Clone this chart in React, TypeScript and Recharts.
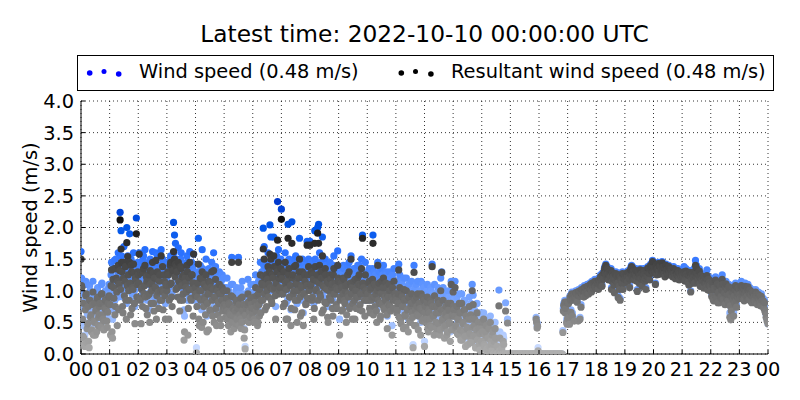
import React from 'react';
import { ScatterChart, Scatter, XAxis, YAxis, CartesianGrid } from 'recharts';

// Hour-axis ticks and labels
const hourTicks = [0, 1, 2, 3, 4, 5, 6, 7, 8, 9, 10, 11, 12, 13, 14, 15, 16, 17, 18, 19, 20, 21, 22, 23, 24];
const hourLabels = ['00', '01', '02', '03', '04', '05', '06', '07', '08', '09', '10', '11', '12', '13', '14', '15', '16', '17', '18', '19', '20', '21', '22', '23', '00'];
const speedTicks = [0, 0.5, 1, 1.5, 2, 2.5, 3, 3.5, 4];
const samplesPerHour = 30;

// Wind speed (m/s), even minutes, one line per hour (00..23), last value = 00:00 next day
const windSpeed = [
  1.62, 1.18, 0.45, 0.45, 0.30, 1.15, 0.40, 0.62, 0.38, 1.08, 0.72, 0.55, 0.92, 0.55, 0.66, 0.48, 0.85, 1.02, 0.60, 0.75, 0.95, 0.58, 1.12, 0.70, 0.52, 0.88, 0.98, 0.64, 0.80, 1.05,
  1.10, 0.80, 1.45, 0.55, 1.20, 1.48, 0.95, 1.35, 0.70, 1.60, 1.25, 2.24, 1.95, 1.40, 0.90, 1.70, 1.30, 1.05, 2.00, 1.55, 1.15, 1.90, 0.85, 1.45, 1.20, 1.60, 1.00, 1.35, 2.15, 1.25,
  1.40, 1.60, 1.05, 0.85, 1.25, 1.50, 1.15, 1.65, 0.95, 1.30, 1.10, 1.45, 0.70, 1.35, 1.20, 1.62, 1.00, 1.40, 1.28, 0.80, 1.55, 1.18, 1.35, 1.05, 1.65, 1.25, 0.90, 1.45, 1.15, 1.32,
  1.20, 1.45, 0.95, 1.30, 1.55, 1.10, 1.40, 2.08, 1.88, 1.75, 1.50, 1.25, 1.68, 1.35, 1.05, 1.60, 1.45, 1.15, 0.70, 1.40, 1.30, 1.55, 0.85, 1.25, 1.62, 1.10, 1.45, 1.35, 1.58, 1.20,
  1.25, 0.10, 1.10, 1.83, 0.90, 1.40, 1.20, 1.65, 0.75, 1.30, 1.05, 1.50, 0.60, 1.15, 1.35, 0.95, 1.25, 1.45, 0.85, 1.60, 1.10, 1.38, 0.70, 1.20, 1.02, 1.30, 0.80, 1.15, 1.25, 0.95,
  1.05, 0.85, 0.95, 1.20, 0.70, 1.00, 0.80, 0.60, 1.53, 1.10, 0.75, 0.90, 0.65, 1.05, 0.85, 1.53, 0.95, 0.70, 0.55, 1.15, 0.85, 0.40, 0.12, 0.75, 0.95, 1.18, 0.65, 0.80, 1.10, 0.90,
  0.85, 1.10, 0.70, 1.25, 0.95, 0.60, 1.15, 0.80, 1.45, 1.05, 1.30, 1.99, 1.70, 0.90, 1.45, 1.20, 1.60, 1.30, 2.04, 1.85, 1.00, 1.40, 1.85, 1.25, 0.75, 1.55, 2.41, 1.65, 1.20, 1.45,
  2.29, 1.40, 0.95, 1.25, 1.60, 0.80, 1.35, 2.05, 1.50, 1.10, 0.70, 2.09, 1.45, 1.20, 0.90, 1.55, 1.30, 1.05, 1.40, 1.83, 0.85, 1.25, 1.50, 0.65, 1.15, 1.35, 1.00, 1.78, 1.45, 1.20,
  1.78, 1.30, 1.05, 1.45, 0.80, 1.95, 1.20, 1.35, 2.00, 2.05, 1.60, 1.10, 1.40, 1.85, 0.90, 1.25, 1.50, 1.00, 1.35, 0.75, 1.20, 1.45, 1.05, 1.30, 0.85, 1.55, 1.15, 1.25, 0.95, 1.63,
  1.35, 0.55, 1.10, 1.25, 0.90, 1.40, 1.05, 1.20, 0.75, 1.30, 1.15, 1.45, 0.95, 1.55, 1.25, 1.00, 1.35, 0.80, 1.20, 1.10, 1.40, 1.30, 0.90, 1.15, 1.50, 1.88, 1.25, 1.05, 1.45, 1.20,
  1.20, 1.05, 1.35, 0.85, 1.25, 1.10, 1.88, 1.30, 0.95, 1.15, 0.70, 1.45, 1.25, 1.00, 0.80, 1.35, 1.15, 1.40, 0.90, 1.05, 1.25, 0.60, 1.10, 1.30, 0.95, 1.20, 0.45, 1.05, 1.35, 1.15,
  1.10, 0.85, 1.00, 1.42, 1.25, 0.75, 1.15, 0.95, 0.60, 1.05, 0.80, 1.20, 0.90, 0.55, 1.10, 0.70, 1.00, 0.85, 0.15, 1.40, 1.05, 0.65, 0.95, 1.15, 0.80, 1.00, 0.50, 0.90, 1.10, 0.75,
  0.20, 0.95, 0.75, 1.10, 0.55, 0.85, 0.65, 1.00, 1.42, 0.80, 0.45, 0.95, 0.70, 0.60, 1.05, 0.85, 0.50, 1.20, 1.30, 0.75, 0.90, 0.40, 0.65, 0.85, 0.55, 1.00, 0.70, 0.35, 1.15, 0.80,
  1.05, 0.85, 1.15, 0.60, 0.90, 0.70, 0.45, 0.80, 0.35, 0.95, 0.65, 0.50, 0.85, 0.25, 0.75, 0.55, 0.40, 0.90, 0.30, 0.70, 1.10, 0.93, 0.60, 0.45, 0.20, 0.80, 0.35, 0.55, 0.15, 0.65,
  0.50, 0.30, 0.65, 0.20, 0.45, 0.10, 0.55, 0.35, 0.15, 0.60, 0.25, 0.40, 0.05, 0.30, 0.50, 0.10, 0.20, 0.00, 1.01, 0.35, 0.00, 0.15, 0.00, 0.25, 0.00, 0.81, 0.00, 0.55, 0.00, 0.00,
  0.00, 0.00, 0.00, 0.00, 0.00, 0.00, 0.00, 0.00, 0.00, 0.00, 0.00, 0.00, 0.00, 0.00, 0.00, 0.00, 0.00, 0.00, 0.00, 0.00, 0.00, 0.00, 0.00, 0.00, 0.00, 0.00, 0.00, 0.58, 0.45, 0.10,
  0.00, 0.00, 0.00, 0.00, 0.00, 0.00, 0.00, 0.00, 0.00, 0.00, 0.00, 0.00, 0.00, 0.00, 0.00, 0.00, 0.00, 0.00, 0.00, 0.00, 0.00, 0.00, 0.00, 0.00, 0.00, 0.37, 0.80, 0.85, 0.75, 0.55,
  0.60, 0.82, 0.50, 0.88, 0.95, 0.65, 0.90, 0.55, 0.92, 0.98, 0.85, 0.55, 1.00, 0.58, 0.78, 0.98, 1.02, 0.92, 1.05, 0.95, 1.00, 1.08, 0.98, 1.05, 1.12, 1.00, 1.10, 1.05, 1.15, 1.08,
  1.08, 1.12, 1.05, 1.18, 1.15, 1.22, 1.10, 1.25, 1.30, 1.38, 1.42, 1.28, 1.35, 1.20, 1.32, 1.25, 1.05, 1.30, 1.22, 1.00, 1.28, 1.18, 1.25, 0.92, 1.10, 0.88, 1.20, 1.15, 1.05, 1.22,
  1.15, 1.22, 1.30, 1.18, 1.25, 1.08, 1.35, 1.40, 1.38, 1.28, 1.32, 1.20, 1.25, 1.02, 1.30, 1.15, 1.35, 1.22, 1.10, 1.28, 1.32, 1.18, 1.05, 1.25, 1.38, 1.30, 1.20, 1.42, 1.35, 1.48,
  1.30, 1.38, 1.12, 1.42, 1.35, 1.45, 1.28, 1.40, 1.33, 1.46, 1.30, 1.38, 1.25, 1.42, 1.35, 1.30, 1.40, 1.28, 1.36, 1.32, 1.25, 1.38, 1.30, 1.22, 1.35, 1.28, 1.32, 1.20, 1.30, 1.25,
  1.30, 1.22, 1.38, 1.18, 1.35, 1.25, 1.28, 1.12, 1.32, 1.00, 1.20, 1.30, 1.25, 1.15, 1.48, 1.40, 1.30, 1.22, 1.35, 1.10, 1.28, 1.18, 1.25, 1.08, 1.20, 1.15, 1.33, 1.05, 1.22, 1.12,
  1.10, 0.95, 1.18, 0.88, 1.05, 1.22, 0.92, 1.15, 1.00, 0.85, 1.12, 0.95, 1.25, 0.90, 1.05, 0.82, 1.15, 0.98, 0.88, 1.10, 0.65, 0.58, 0.95, 1.08, 0.66, 0.85, 1.12, 0.78, 1.00, 0.92,
  1.05, 0.92, 1.15, 0.98, 1.08, 0.88, 1.12, 1.02, 0.95, 1.10, 0.90, 1.05, 0.98, 0.85, 1.00, 0.92, 0.88, 1.02, 0.95, 0.82, 0.98, 0.90, 0.85, 0.95, 0.80, 0.88, 0.75, 0.70, 0.62, 0.55,
  0.48,
];

// Wind speed (m/s), odd minutes, one line per hour
const windSpeedOdd = [
  1.20, 0.75, 0.95, 0.50, 0.85, 1.10, 0.65, 0.90, 0.45, 1.00, 0.80, 0.60, 1.15, 0.70, 0.95, 0.85, 0.55, 1.05, 0.75, 0.90, 0.65, 1.10, 0.80, 0.95, 0.70, 1.00, 0.85, 0.60, 0.95, 1.10,
  0.95, 1.25, 0.70, 1.35, 1.05, 0.85, 1.50, 1.15, 1.30, 0.90, 1.40, 1.20, 1.55, 0.95, 1.35, 1.10, 1.45, 0.80, 1.25, 1.38, 1.05, 1.30, 1.50, 0.95, 1.20, 1.40, 0.75, 1.30, 1.10, 1.45,
  1.30, 1.05, 1.45, 1.20, 0.95, 1.55, 1.25, 1.10, 1.40, 0.85, 1.35, 1.15, 1.50, 1.00, 1.30, 1.45, 0.90, 1.25, 1.60, 1.10, 1.35, 0.95, 1.40, 1.20, 1.05, 1.50, 1.15, 1.30, 0.80, 1.25,
  1.25, 1.40, 1.05, 1.50, 1.30, 0.95, 1.45, 1.60, 1.35, 1.20, 1.45, 1.10, 1.30, 0.90, 1.50, 1.25, 1.05, 1.40, 0.60, 1.30, 1.15, 1.45, 0.95, 1.35, 1.20, 1.05, 1.40, 0.85, 1.30, 1.10,
  1.15, 0.95, 1.30, 0.80, 1.20, 1.05, 0.70, 1.35, 0.95, 1.10, 0.85, 1.25, 1.00, 0.65, 1.15, 1.30, 0.90, 1.05, 1.20, 0.75, 1.10, 0.95, 1.25, 0.85, 1.00, 1.15, 0.70, 1.05, 0.90, 1.20,
  0.95, 0.75, 1.05, 0.85, 0.65, 0.95, 0.80, 1.10, 0.70, 0.90, 0.60, 0.85, 1.00, 0.75, 0.90, 0.65, 0.80, 1.05, 0.70, 0.85, 0.95, 0.60, 0.80, 0.90, 0.70, 1.00, 0.85, 0.75, 0.95, 0.80,
  0.90, 0.75, 1.00, 0.85, 1.10, 0.70, 0.95, 1.20, 0.85, 1.30, 1.05, 1.40, 1.15, 1.25, 0.95, 1.35, 1.10, 1.45, 1.25, 1.05, 1.40, 1.20, 1.50, 1.10, 1.30, 1.45, 1.15, 1.35, 1.25, 1.50,
  1.35, 1.15, 1.45, 1.00, 1.30, 1.20, 0.85, 1.40, 1.10, 1.25, 0.95, 1.35, 1.15, 1.50, 1.05, 1.30, 0.80, 1.20, 1.45, 1.10, 1.25, 0.90, 1.35, 1.15, 1.40, 1.00, 1.25, 1.10, 1.50, 1.20,
  1.25, 1.45, 1.10, 1.35, 0.95, 1.50, 1.20, 1.40, 1.05, 1.30, 1.15, 1.45, 0.90, 1.25, 1.35, 1.05, 1.40, 1.20, 0.85, 1.30, 1.10, 1.35, 1.25, 0.95, 1.40, 1.15, 1.30, 1.00, 1.20, 1.35,
  1.20, 1.05, 1.30, 0.90, 1.15, 1.35, 1.00, 1.25, 0.85, 1.40, 1.10, 0.95, 1.30, 1.15, 0.80, 1.25, 1.05, 1.35, 0.95, 1.20, 1.10, 1.40, 1.00, 1.25, 0.90, 1.30, 1.15, 0.85, 1.20, 1.05,
  1.15, 1.30, 0.95, 1.20, 1.05, 1.35, 0.85, 1.10, 1.25, 0.90, 1.20, 1.05, 1.30, 0.80, 1.15, 1.00, 1.25, 0.95, 1.10, 1.30, 0.85, 1.15, 1.00, 1.20, 0.90, 1.10, 1.25, 0.95, 1.05, 1.15,
  1.05, 0.90, 1.15, 0.80, 1.00, 0.70, 1.10, 0.95, 1.20, 0.85, 0.65, 1.05, 0.90, 1.10, 0.75, 0.95, 1.15, 0.80, 1.00, 0.70, 0.90, 1.10, 0.85, 0.60, 1.00, 0.95, 1.15, 0.75, 0.90, 1.05,
  0.85, 0.70, 1.00, 0.60, 0.90, 0.75, 1.05, 0.65, 0.95, 0.80, 1.10, 0.55, 0.85, 0.95, 0.70, 1.00, 0.60, 0.90, 0.75, 1.05, 0.65, 0.85, 0.95, 0.55, 0.80, 0.90, 0.70, 1.00, 0.60, 0.85,
  0.90, 0.75, 0.60, 0.85, 0.50, 0.70, 0.95, 0.55, 0.80, 0.40, 0.65, 0.85, 0.45, 0.75, 0.60, 0.30, 0.70, 0.50, 0.80, 0.35, 0.60, 0.45, 0.70, 0.25, 0.55, 0.40, 0.65, 0.30, 0.50, 0.35,
  0.45, 0.60, 0.25, 0.40, 0.55, 0.15, 0.35, 0.50, 0.20, 0.30, 0.10, 0.45, 0.25, 0.05, 0.35, 0.00, 0.20, 0.00, 0.10, 0.00, 0.00, 0.00, 0.30, 0.00, 0.00, 0.00, 0.00, 0.00, 0.00, 0.00,
  0.00, 0.00, 0.00, 0.00, 0.00, 0.00, 0.00, 0.00, 0.00, 0.00, 0.00, 0.00, 0.00, 0.00, 0.00, 0.00, 0.00, 0.00, 0.00, 0.00, 0.00, 0.00, 0.00, 0.00, 0.00, 0.00, 0.00, 0.52, 0.48, 0.00,
  0.00, 0.00, 0.00, 0.00, 0.00, 0.00, 0.00, 0.00, 0.00, 0.00, 0.00, 0.00, 0.00, 0.00, 0.00, 0.00, 0.00, 0.00, 0.00, 0.00, 0.00, 0.00, 0.00, 0.00, 0.00, 0.72, 0.80, 0.68, 0.85, 0.50,
  0.85, 0.62, 0.92, 0.70, 0.98, 0.88, 0.95, 0.92, 1.00, 0.90, 0.96, 1.02, 0.94, 1.00, 1.05, 0.97, 1.03, 1.08, 1.00, 1.06, 1.10, 1.02, 1.08, 1.12, 1.05, 1.15, 1.08, 1.12, 1.18, 1.10,
  1.10, 1.15, 1.20, 1.12, 1.25, 1.18, 1.28, 1.22, 1.35, 1.30, 1.25, 1.38, 1.30, 1.28, 1.22, 1.35, 1.18, 1.25, 1.12, 1.20, 1.30, 1.22, 1.15, 1.28, 1.05, 1.25, 1.18, 1.30, 1.22, 1.28,
  1.20, 1.28, 1.25, 1.32, 1.22, 1.30, 1.38, 1.26, 1.33, 1.20, 1.28, 1.35, 1.18, 1.25, 1.32, 1.28, 1.22, 1.30, 1.25, 1.35, 1.28, 1.22, 1.30, 1.33, 1.25, 1.38, 1.30, 1.35, 1.40, 1.32,
  1.35, 1.32, 1.40, 1.28, 1.38, 1.33, 1.42, 1.30, 1.36, 1.40, 1.34, 1.30, 1.38, 1.33, 1.28, 1.36, 1.32, 1.30, 1.35, 1.28, 1.33, 1.30, 1.26, 1.32, 1.28, 1.35, 1.25, 1.30, 1.27, 1.32,
  1.28, 1.25, 1.32, 1.20, 1.30, 1.22, 1.18, 1.28, 1.15, 1.25, 1.30, 1.22, 1.35, 1.28, 1.32, 1.25, 1.20, 1.28, 1.15, 1.25, 1.22, 1.12, 1.20, 1.18, 1.25, 1.10, 1.22, 1.15, 1.18, 1.05,
  1.05, 1.15, 0.90, 1.08, 1.20, 0.95, 1.10, 0.85, 1.02, 1.12, 0.92, 1.05, 1.15, 0.88, 1.00, 1.10, 0.92, 1.05, 0.85, 0.98, 0.80, 0.72, 1.02, 0.90, 0.95, 1.05, 0.88, 0.95, 1.08, 0.98,
  0.98, 1.08, 0.95, 1.02, 0.90, 1.05, 0.98, 0.92, 1.06, 0.95, 1.00, 0.88, 0.96, 1.02, 0.90, 0.95, 0.85, 0.98, 0.88, 0.92, 0.85, 0.95, 0.80, 0.88, 0.82, 0.78, 0.85, 0.72, 0.66, 0.58,
];

// Resultant wind speed (m/s), even minutes
const resultantSpeed = [
  1.50, 1.05, 0.28, 0.25, 0.12, 0.92, 0.18, 0.48, 0.20, 0.85, 0.58, 0.35, 0.78, 0.30, 0.50, 0.30, 0.70, 0.88, 0.45, 0.62, 0.80, 0.42, 0.95, 0.55, 0.38, 0.72, 0.85, 0.52, 0.66, 0.90,
  0.90, 0.30, 1.33, 0.25, 1.05, 1.35, 0.75, 1.20, 0.45, 1.40, 1.10, 2.12, 1.66, 1.30, 0.65, 1.45, 1.15, 0.85, 1.76, 1.54, 1.00, 1.45, 0.62, 1.30, 1.05, 1.42, 0.80, 1.20, 1.90, 1.10,
  1.25, 1.58, 0.85, 0.48, 1.05, 1.30, 0.95, 1.40, 0.72, 1.15, 0.92, 1.25, 0.50, 1.10, 1.00, 1.45, 0.80, 1.20, 1.05, 0.55, 1.30, 0.98, 1.15, 0.85, 1.55, 1.02, 0.70, 1.25, 0.92, 1.10,
  1.00, 1.30, 0.55, 1.10, 1.45, 0.90, 1.28, 1.62, 1.50, 1.42, 1.38, 1.05, 1.45, 1.15, 0.85, 1.35, 1.22, 0.95, 0.22, 1.20, 1.05, 1.40, 0.30, 1.02, 1.45, 0.88, 1.25, 1.12, 1.58, 1.00,
  1.05, 0.02, 0.90, 1.42, 0.45, 1.20, 1.00, 1.30, 0.50, 1.10, 0.85, 1.25, 0.35, 0.95, 1.15, 0.70, 1.05, 1.30, 0.60, 1.32, 0.90, 1.18, 0.45, 1.00, 0.82, 1.10, 0.55, 0.95, 1.05, 0.75,
  0.85, 0.70, 0.75, 1.00, 0.55, 0.80, 0.65, 0.35, 1.45, 0.90, 0.60, 0.72, 0.48, 0.85, 0.70, 1.45, 0.78, 0.55, 0.40, 0.90, 0.70, 0.25, 0.08, 0.60, 0.78, 0.95, 0.50, 0.65, 0.88, 0.72,
  0.65, 0.90, 0.50, 1.05, 0.75, 0.45, 0.95, 0.60, 1.25, 0.85, 1.10, 1.66, 1.50, 0.70, 1.25, 1.00, 1.38, 1.10, 1.58, 1.50, 0.80, 1.20, 1.55, 1.05, 0.55, 1.35, 1.80, 1.45, 1.00, 1.25,
  2.13, 1.20, 0.75, 1.05, 1.45, 0.55, 1.15, 1.83, 1.35, 0.90, 0.45, 1.75, 1.25, 1.00, 0.70, 1.40, 1.10, 0.85, 1.20, 1.50, 0.60, 1.05, 1.30, 0.45, 0.95, 1.15, 0.80, 1.72, 1.25, 1.00,
  1.72, 1.10, 0.85, 1.25, 0.55, 1.75, 1.00, 1.15, 1.91, 1.75, 1.40, 0.90, 1.20, 1.55, 0.70, 1.05, 1.35, 0.80, 1.15, 0.50, 1.00, 1.25, 0.85, 1.10, 0.60, 1.35, 0.95, 1.05, 0.72, 1.40,
  1.15, 0.30, 0.90, 1.05, 0.70, 1.20, 0.85, 1.00, 0.50, 1.10, 0.95, 1.30, 0.75, 1.50, 1.05, 0.80, 1.15, 0.55, 1.00, 0.90, 1.20, 1.10, 0.70, 0.95, 1.35, 1.83, 1.05, 0.85, 1.25, 1.00,
  1.00, 0.85, 1.15, 0.65, 1.05, 0.90, 1.75, 1.10, 0.75, 0.95, 0.50, 1.40, 1.05, 0.80, 0.60, 1.15, 0.95, 1.20, 0.70, 0.85, 1.05, 0.40, 0.90, 1.10, 0.75, 1.00, 0.30, 0.85, 1.15, 0.95,
  0.90, 0.65, 0.80, 1.33, 1.05, 0.55, 0.95, 0.75, 0.40, 0.85, 0.60, 1.00, 0.70, 0.35, 0.90, 0.50, 0.80, 0.65, 0.10, 1.29, 0.85, 0.45, 0.75, 0.95, 0.60, 0.80, 0.30, 0.70, 0.90, 0.55,
  0.12, 0.75, 0.55, 0.90, 0.35, 0.65, 0.45, 0.80, 1.38, 0.60, 0.30, 0.75, 0.50, 0.40, 0.85, 0.65, 0.30, 1.00, 1.29, 0.55, 0.70, 0.25, 0.45, 0.65, 0.35, 0.80, 0.50, 0.20, 1.10, 0.60,
  0.98, 0.70, 1.05, 0.45, 0.75, 0.55, 0.30, 0.65, 0.22, 0.80, 0.50, 0.35, 0.70, 0.12, 0.60, 0.40, 0.28, 0.75, 0.18, 0.55, 1.00, 0.78, 0.45, 0.30, 0.10, 0.65, 0.22, 0.40, 0.06, 0.50,
  0.40, 0.20, 0.55, 0.12, 0.35, 0.05, 0.45, 0.25, 0.08, 0.50, 0.15, 0.30, 0.00, 0.20, 0.40, 0.05, 0.12, 0.00, 0.76, 0.25, 0.00, 0.08, 0.00, 0.15, 0.00, 0.68, 0.00, 0.49, 0.00, 0.00,
  0.00, 0.00, 0.00, 0.00, 0.00, 0.00, 0.00, 0.00, 0.00, 0.00, 0.00, 0.00, 0.00, 0.00, 0.00, 0.00, 0.00, 0.00, 0.00, 0.00, 0.00, 0.00, 0.00, 0.00, 0.00, 0.00, 0.00, 0.55, 0.41, 0.05,
  0.00, 0.00, 0.00, 0.00, 0.00, 0.00, 0.00, 0.00, 0.00, 0.00, 0.00, 0.00, 0.00, 0.00, 0.00, 0.00, 0.00, 0.00, 0.00, 0.00, 0.00, 0.00, 0.00, 0.00, 0.00, 0.34, 0.77, 0.82, 0.72, 0.50,
  0.56, 0.80, 0.47, 0.85, 0.93, 0.60, 0.87, 0.52, 0.90, 0.95, 0.82, 0.52, 0.97, 0.55, 0.74, 0.96, 0.99, 0.90, 1.03, 0.92, 0.97, 1.06, 0.95, 1.03, 1.10, 0.98, 1.07, 1.03, 1.12, 1.05,
  1.05, 1.10, 1.02, 1.16, 1.12, 1.20, 1.07, 1.23, 1.28, 1.36, 1.40, 1.25, 1.33, 1.17, 1.30, 1.22, 1.02, 1.28, 1.19, 0.97, 1.26, 1.15, 1.23, 0.89, 1.07, 0.85, 1.18, 1.12, 1.02, 1.20,
  1.12, 1.20, 1.28, 1.15, 1.22, 1.05, 1.33, 1.38, 1.36, 1.25, 1.30, 1.17, 1.22, 0.99, 1.28, 1.12, 1.33, 1.19, 1.07, 1.26, 1.30, 1.15, 1.02, 1.23, 1.36, 1.28, 1.17, 1.40, 1.33, 1.46,
  1.28, 1.36, 1.10, 1.40, 1.33, 1.43, 1.26, 1.38, 1.31, 1.44, 1.27, 1.36, 1.22, 1.40, 1.33, 1.27, 1.38, 1.25, 1.34, 1.29, 1.22, 1.35, 1.27, 1.19, 1.32, 1.25, 1.29, 1.17, 1.27, 1.22,
  1.27, 1.19, 1.30, 1.15, 1.31, 1.22, 1.25, 1.09, 1.29, 0.98, 1.17, 1.27, 1.21, 1.12, 1.40, 1.36, 1.27, 1.18, 1.31, 1.07, 1.24, 1.14, 1.21, 1.04, 1.16, 1.11, 1.24, 1.01, 1.18, 1.08,
  1.06, 0.91, 1.14, 0.84, 1.01, 1.17, 0.88, 1.11, 0.96, 0.81, 1.08, 0.91, 1.18, 0.86, 1.01, 0.78, 1.11, 0.94, 0.84, 1.06, 0.58, 0.54, 0.91, 1.04, 0.60, 0.81, 1.08, 0.74, 0.96, 0.88,
  1.01, 0.88, 1.08, 0.94, 1.04, 0.84, 1.07, 0.98, 0.91, 1.06, 0.86, 1.01, 0.94, 0.81, 0.96, 0.88, 0.84, 0.98, 0.91, 0.78, 0.94, 0.86, 0.81, 0.91, 0.76, 0.84, 0.71, 0.66, 0.58, 0.52,
  0.48,
];

// Resultant wind speed (m/s), odd minutes
const resultantSpeedOdd = [
  1.08, 0.55, 0.80, 0.15, 0.70, 0.95, 0.40, 0.75, 0.10, 0.85, 0.62, 0.38, 0.98, 0.52, 0.80, 0.68, 0.35, 0.90, 0.58, 0.75, 0.45, 0.95, 0.62, 0.80, 0.52, 0.85, 0.70, 0.42, 0.80, 0.92,
  0.78, 1.08, 0.35, 1.18, 0.88, 0.62, 1.35, 0.98, 1.15, 0.70, 1.32, 1.02, 1.45, 0.75, 1.20, 0.92, 1.38, 0.55, 1.08, 1.25, 0.85, 1.12, 1.40, 0.72, 1.02, 1.28, 0.48, 1.15, 0.90, 1.30,
  1.12, 0.88, 1.28, 1.02, 0.75, 1.35, 1.08, 0.90, 1.22, 0.62, 1.18, 0.95, 1.32, 0.80, 1.12, 1.28, 0.68, 1.05, 1.48, 0.92, 1.18, 0.72, 1.25, 1.00, 0.85, 1.38, 0.98, 1.15, 0.55, 1.08,
  1.08, 1.25, 0.85, 1.40, 1.12, 0.75, 1.32, 1.48, 1.22, 1.02, 1.30, 0.90, 1.15, 0.68, 1.38, 1.08, 0.85, 1.25, 0.35, 1.12, 0.98, 1.30, 0.72, 1.20, 1.02, 0.85, 1.25, 0.60, 1.12, 0.92,
  0.95, 0.75, 1.12, 0.55, 1.00, 0.85, 0.42, 1.18, 0.75, 0.90, 0.62, 1.05, 0.80, 0.38, 0.95, 1.12, 0.68, 0.85, 1.02, 0.50, 0.90, 0.72, 1.05, 0.62, 0.80, 0.95, 0.45, 0.85, 0.68, 1.00,
  0.78, 0.58, 0.88, 0.68, 0.45, 0.78, 0.62, 0.92, 0.50, 0.72, 0.40, 0.68, 0.82, 0.55, 0.72, 0.45, 0.62, 0.88, 0.50, 0.68, 0.78, 0.38, 0.62, 0.72, 0.52, 0.82, 0.68, 0.58, 0.78, 0.62,
  0.72, 0.55, 0.82, 0.68, 0.92, 0.50, 0.78, 1.02, 0.65, 1.12, 0.85, 1.22, 0.95, 1.08, 0.75, 1.18, 0.90, 1.30, 1.05, 0.85, 1.25, 1.02, 1.38, 0.92, 1.12, 1.30, 0.95, 1.20, 1.05, 1.35,
  1.18, 0.95, 1.30, 0.80, 1.12, 1.02, 0.55, 1.25, 0.90, 1.08, 0.72, 1.20, 0.95, 1.38, 0.85, 1.12, 0.50, 1.00, 1.30, 0.90, 1.08, 0.65, 1.20, 0.95, 1.25, 0.78, 1.08, 0.88, 1.38, 1.02,
  1.08, 1.30, 0.90, 1.18, 0.72, 1.38, 1.02, 1.25, 0.85, 1.12, 0.95, 1.30, 0.65, 1.08, 1.20, 0.82, 1.25, 1.02, 0.58, 1.12, 0.90, 1.18, 1.05, 0.72, 1.25, 0.95, 1.12, 0.78, 1.02, 1.20,
  1.02, 0.85, 1.12, 0.68, 0.95, 1.18, 0.80, 1.08, 0.62, 1.25, 0.90, 0.72, 1.12, 0.95, 0.55, 1.05, 0.85, 1.18, 0.72, 1.00, 0.90, 1.25, 0.78, 1.08, 0.68, 1.12, 0.95, 0.60, 1.00, 0.85,
  0.95, 1.12, 0.72, 1.02, 0.85, 1.18, 0.62, 0.90, 1.08, 0.68, 1.00, 0.85, 1.12, 0.55, 0.95, 0.78, 1.05, 0.72, 0.90, 1.12, 0.62, 0.95, 0.78, 1.00, 0.68, 0.90, 1.05, 0.72, 0.85, 0.95,
  0.85, 0.70, 0.95, 0.58, 0.80, 0.48, 0.90, 0.75, 1.02, 0.62, 0.42, 0.85, 0.70, 0.90, 0.52, 0.75, 0.95, 0.58, 0.80, 0.45, 0.70, 0.90, 0.62, 0.38, 0.80, 0.72, 0.95, 0.52, 0.68, 0.85,
  0.65, 0.50, 0.82, 0.40, 0.70, 0.55, 0.85, 0.42, 0.75, 0.60, 0.92, 0.32, 0.65, 0.75, 0.48, 0.80, 0.38, 0.70, 0.52, 0.85, 0.42, 0.62, 0.75, 0.30, 0.58, 0.70, 0.48, 0.80, 0.38, 0.62,
  0.75, 0.60, 0.42, 0.70, 0.32, 0.55, 0.80, 0.38, 0.65, 0.22, 0.48, 0.70, 0.28, 0.60, 0.42, 0.15, 0.55, 0.32, 0.62, 0.18, 0.42, 0.28, 0.55, 0.10, 0.38, 0.22, 0.50, 0.15, 0.32, 0.20,
  0.35, 0.50, 0.15, 0.30, 0.45, 0.08, 0.25, 0.40, 0.12, 0.20, 0.05, 0.35, 0.15, 0.02, 0.25, 0.00, 0.12, 0.00, 0.05, 0.00, 0.00, 0.00, 0.20, 0.00, 0.00, 0.00, 0.00, 0.00, 0.00, 0.00,
  0.00, 0.00, 0.00, 0.00, 0.00, 0.00, 0.00, 0.00, 0.00, 0.00, 0.00, 0.00, 0.00, 0.00, 0.00, 0.00, 0.00, 0.00, 0.00, 0.00, 0.00, 0.00, 0.00, 0.00, 0.00, 0.00, 0.00, 0.50, 0.44, 0.00,
  0.00, 0.00, 0.00, 0.00, 0.00, 0.00, 0.00, 0.00, 0.00, 0.00, 0.00, 0.00, 0.00, 0.00, 0.00, 0.00, 0.00, 0.00, 0.00, 0.00, 0.00, 0.00, 0.00, 0.00, 0.00, 0.68, 0.77, 0.65, 0.82, 0.47,
  0.82, 0.58, 0.90, 0.66, 0.95, 0.85, 0.92, 0.89, 0.97, 0.87, 0.93, 0.99, 0.91, 0.97, 1.02, 0.94, 1.00, 1.05, 0.97, 1.03, 1.07, 0.99, 1.05, 1.09, 1.02, 1.12, 1.05, 1.09, 1.15, 1.07,
  1.07, 1.12, 1.17, 1.09, 1.22, 1.15, 1.25, 1.19, 1.32, 1.27, 1.22, 1.35, 1.27, 1.25, 1.19, 1.32, 1.15, 1.22, 1.09, 1.17, 1.27, 1.19, 1.12, 1.25, 1.02, 1.22, 1.15, 1.27, 1.19, 1.25,
  1.17, 1.25, 1.22, 1.29, 1.19, 1.27, 1.35, 1.23, 1.30, 1.17, 1.25, 1.32, 1.15, 1.22, 1.29, 1.25, 1.19, 1.27, 1.22, 1.32, 1.25, 1.19, 1.27, 1.30, 1.22, 1.35, 1.27, 1.32, 1.37, 1.29,
  1.32, 1.29, 1.37, 1.25, 1.35, 1.30, 1.39, 1.27, 1.33, 1.37, 1.31, 1.27, 1.35, 1.30, 1.25, 1.33, 1.29, 1.27, 1.32, 1.25, 1.30, 1.27, 1.23, 1.29, 1.25, 1.32, 1.22, 1.27, 1.24, 1.29,
  1.24, 1.21, 1.27, 1.16, 1.26, 1.18, 1.14, 1.24, 1.11, 1.21, 1.26, 1.18, 1.30, 1.24, 1.28, 1.21, 1.16, 1.24, 1.11, 1.20, 1.17, 1.07, 1.15, 1.13, 1.20, 1.05, 1.17, 1.10, 1.13, 1.00,
  1.01, 1.10, 0.86, 1.04, 1.15, 0.91, 1.06, 0.81, 0.98, 1.08, 0.88, 1.01, 1.10, 0.84, 0.96, 1.06, 0.88, 1.01, 0.81, 0.94, 0.76, 0.68, 0.98, 0.86, 0.91, 1.01, 0.84, 0.91, 1.04, 0.94,
  0.94, 1.04, 0.91, 0.98, 0.86, 1.01, 0.94, 0.88, 1.02, 0.91, 0.96, 0.84, 0.92, 0.98, 0.86, 0.91, 0.81, 0.94, 0.84, 0.88, 0.81, 0.91, 0.76, 0.84, 0.78, 0.74, 0.81, 0.68, 0.62, 0.54,
];

const toPoints = (even: number[], odd: number[]) => {
  const pts: { t: number; v: number }[] = [];
  even.forEach((v, i) => {
    pts.push({ t: i / samplesPerHour, v });
    if (i < odd.length) pts.push({ t: (i + 0.5) / samplesPerHour, v: odd[i] });
  });
  return pts;
};

const windData = toPoints(windSpeed, windSpeedOdd);
const resultantData = toPoints(resultantSpeed, resultantSpeedOdd);

const clamp = (x: number) => Math.max(0, Math.min(255, Math.round(x)));
const blueFor = (v: number) =>
  `rgb(${clamp(210 - 105 * v)},${clamp(225 - 70 * v)},${clamp(255 - Math.max(0, v - 1.6) * 60)})`;
const grayFor = (v: number) => {
  const g = Math.max(10, clamp(175 - 75 * v));
  return `rgb(${g},${g},${g})`;
};

const makeDot = (colorFor: (v: number) => string) => (props: any) => {
  const { cx, cy, payload } = props;
  if (cx == null || cy == null) return <g />;
  return <circle cx={cx} cy={cy} r={3.6} fill={colorFor(payload.v)} />;
};

const FONT = '"DejaVu Sans", sans-serif';
const FS = 19.4;
const TICK_LEN = 4;
const X_MARGIN = 8;
const Y_MARGIN = 7;

// bottom axis: inward tick mark + label
const BottomTick = (props: any) => {
  const { x, y, payload } = props;
  const axisY = y - X_MARGIN;
  return (
    <g>
      <line x1={x} x2={x} y1={axisY} y2={axisY - TICK_LEN} stroke="#000" strokeWidth={1} />
      <text x={x} y={y} dy="0.71em" textAnchor="middle" fontSize={FS} fontFamily={FONT} fill="#000">
        {hourLabels[hourTicks.indexOf(payload.value)]}
      </text>
    </g>
  );
};

// left axis: inward tick mark + label
const LeftTick = (props: any) => {
  const { x, y, payload } = props;
  const axisX = x + Y_MARGIN;
  return (
    <g>
      <line x1={axisX} x2={axisX + TICK_LEN} y1={y} y2={y} stroke="#000" strokeWidth={1} />
      <text x={x} y={y} dy="0.355em" textAnchor="end" fontSize={FS} fontFamily={FONT} fill="#000">
        {Number(payload.value).toFixed(1)}
      </text>
    </g>
  );
};

// top axis: inward tick mark only
const TopTick = (props: any) => {
  const { x, y } = props;
  return <line x1={x} x2={x} y1={y} y2={y + TICK_LEN} stroke="#000" strokeWidth={1} />;
};

// right axis: inward tick mark only
const RightTick = (props: any) => {
  const { x, y } = props;
  return <line x1={x} x2={x - TICK_LEN} y1={y} y2={y} stroke="#000" strokeWidth={1} />;
};

export default function App() {
  return (
    <div style={{ position: 'absolute', left: 0, top: 0, width: 800, height: 400, background: '#fff', fontFamily: FONT }}>
      <ScatterChart width={800} height={400} margin={{ top: 101, right: 32, bottom: 16, left: 0 }}>
        <CartesianGrid stroke="#000" strokeWidth={0.8} strokeDasharray="1 3" />
        <XAxis
          dataKey="t"
          type="number"
          domain={[0, 24]}
          ticks={hourTicks}
          interval={0}
          tickLine={false}
          tickSize={0}
          tickMargin={X_MARGIN}
          height={30}
          allowDataOverflow
          axisLine={{ stroke: '#000', strokeWidth: 1 }}
          tick={BottomTick}
        />
        <XAxis
          xAxisId="top"
          orientation="top"
          type="number"
          domain={[0, 24]}
          ticks={hourTicks}
          interval={0}
          height={0}
          tickLine={false}
          tickSize={0}
          tickMargin={0}
          axisLine={{ stroke: '#000', strokeWidth: 1 }}
          tick={TopTick}
        />
        <YAxis
          dataKey="v"
          type="number"
          domain={[0, 4]}
          ticks={speedTicks}
          interval={0}
          tickLine={false}
          tickSize={0}
          tickMargin={Y_MARGIN}
          width={81}
          allowDataOverflow
          axisLine={{ stroke: '#000', strokeWidth: 1 }}
          tick={LeftTick}
        />
        <YAxis
          yAxisId="right"
          orientation="right"
          type="number"
          domain={[0, 4]}
          ticks={speedTicks}
          interval={0}
          width={0}
          tickLine={false}
          tickSize={0}
          tickMargin={0}
          axisLine={{ stroke: '#000', strokeWidth: 1 }}
          tick={RightTick}
        />
        <Scatter name="Wind speed" data={windData} isAnimationActive={false} shape={makeDot(blueFor)} />
        <Scatter name="Resultant wind speed" data={resultantData} isAnimationActive={false} shape={makeDot(grayFor)} />
      </ScatterChart>
      <svg width={800} height={400} style={{ position: 'absolute', left: 0, top: 0, pointerEvents: 'none' }}>
        <text x={424.5} y={42.3} textAnchor="middle" fontSize={23.3} fontFamily={FONT} fill="#000">
          Latest time: 2022-10-10 00:00:00 UTC
        </text>
        <rect x={77.5} y={55.5} width={696} height={35} fill="#fff" stroke="#000" strokeWidth={1} />
        <circle cx={89.7} cy={73} r={2.8} fill="#0000ff" />
        <circle cx={104} cy={71.5} r={2.5} fill="#0000ff" />
        <circle cx={118.7} cy={74} r={2.8} fill="#0000ff" />
        <text x={139} y={78.3} fontSize={FS} fontFamily={FONT} fill="#000">Wind speed (0.48 m/s)</text>
        <circle cx={401.3} cy={73} r={2.8} fill="#000" />
        <circle cx={415.5} cy={71.5} r={2.5} fill="#000" />
        <circle cx={430.9} cy={74} r={2.8} fill="#000" />
        <text x={451} y={78.3} fontSize={FS} fontFamily={FONT} fill="#000">Resultant wind speed (0.48 m/s)</text>
        <text
          x={0}
          y={0}
          transform="translate(30,227.5) rotate(-90)"
          textAnchor="middle"
          dominantBaseline="central"
          fontSize={FS}
          fontFamily={FONT}
          fill="#000"
        >
          Wind speed (m/s)
        </text>
      </svg>
    </div>
  );
}
